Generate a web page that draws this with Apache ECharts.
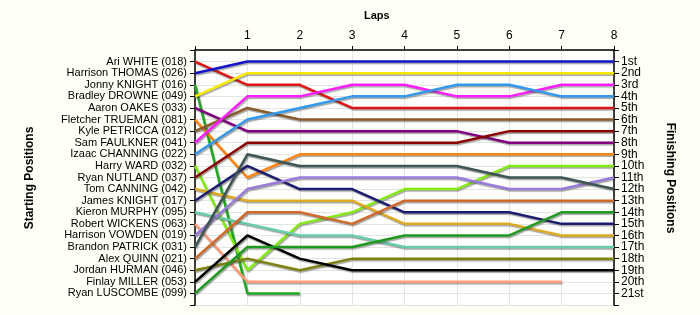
<!DOCTYPE html>
<html><head><meta charset="utf-8">
<script src="https://cdn.jsdelivr.net/npm/echarts@6/dist/echarts.min.js"></script>
<style>html,body{margin:0;padding:0;background:#fffff5}#c{width:700px;height:315px}</style>
</head><body><div id="c"></div>
<script>
const laps = [0,1,2,3,4,5,6,7,8];
const starters = ['Ari WHITE (018)','Harrison THOMAS (026)','Jonny KNIGHT (016)','Bradley DROWNE (049)','Aaron OAKES (033)','Fletcher TRUEMAN (081)','Kyle PETRICCA (012)','Sam FAULKNER (041)','Izaac CHANNING (022)','Harry WARD (032)','Ryan NUTLAND (037)','Tom CANNING (042)','James KNIGHT (017)','Kieron MURPHY (095)','Robert WICKENS (063)','Harrison VOWDEN (019)','Brandon PATRICK (031)','Alex QUINN (021)','Jordan HURMAN (046)','Finlay MILLER (053)','Ryan LUSCOMBE (099)'];
const finishLabels = ['1st','2nd','3rd','4th','5th','6th','7th','8th','9th','10th','11th','12th','13th','14th','15th','16th','17th','18th','19th','20th','21st'];
const whitePos    = [1,3,3,5,5,5,5,5,5];
const thomasPos   = [2,1,1,1,1,1,1,1,1];
const jKnight016  = [3,21,21];
const drownePos   = [4,2,2,2,2,2,2,2,2];
const oakesPos    = [5,7,7,7,7,7,8,8,8];
const truemanPos  = [6,11,9,9,9,9,9,9,9];
const petriccaPos = [7,5,6,6,6,6,6,6,6];
const faulknerPos = [8,4,4,3,3,4,4,3,3];
const channingPos = [9,6,5,4,4,3,3,4,4];
const wardPos     = [10,19,15,14,12,12,10,10,10];
const nutlandPos  = [11,8,8,8,8,8,7,7,7];
const canningPos  = [12,13,13,13,15,15,15,16,16];
const jKnight017  = [13,10,12,12,14,14,14,15,15];
const murphyPos   = [14,15,16,16,17,17,17,17,17];
const wickensPos  = [15,20,20,20,20,20,20,20];
const vowdenPos   = [16,12,11,11,11,11,12,12,11];
const patrickPos  = [17,9,10,10,10,10,11,11,12];
const quinnPos    = [18,14,14,15,13,13,13,13,13];
const hurmanPos   = [19,18,19,18,18,18,18,18,18];
const millerPos   = [20,16,18,19,19,19,19,19,19];
const luscombePos = [21,17,17,17,16,16,16,14,14];
const positions = [whitePos,thomasPos,jKnight016,drownePos,oakesPos,truemanPos,petriccaPos,faulknerPos,channingPos,wardPos,nutlandPos,canningPos,jKnight017,murphyPos,wickensPos,vowdenPos,patrickPos,quinnPos,hurmanPos,millerPos,luscombePos];
const colors = ['#e01515','#1414cc','#22a822','#f8e800','#800080','#ff8410','#8b5a2b','#ff1cff','#3399ee','#84ea14','#8b0000','#ddaa22','#1c1c70','#66ccaa','#ff9a7a','#9a7ada','#3d5555','#d0692a','#808010','#000000','#1f9a1f'];

const series = positions.map((p,i)=>({
  type:'line', name:starters[i], data:p.map((v,k)=>[laps[k],v]),
  symbol:'none', silent:true, animation:false,
  lineStyle:{width:2.5,color:colors[i],shadowColor:'rgba(60,60,60,0.45)',shadowBlur:1,shadowOffsetX:1,shadowOffsetY:1.5}
}));

const chart = echarts.init(document.getElementById('c'),null,{renderer:'canvas'});
const font = {fontFamily:'Liberation Sans',fontSize:11,color:'#000'};
chart.setOption({
  backgroundColor:'#fffff5',
  animation:false,
  grid:{left:195,right:86,top:50,bottom:10,show:true,backgroundColor:'#fffffd',borderWidth:0},
  xAxis:{type:'value',position:'top',min:0,max:8,interval:1,
    axisLine:{show:true,lineStyle:{color:'#000',width:1.5}},
    axisTick:{show:true,length:4,lineStyle:{color:'#000'}},
    axisLabel:Object.assign({margin:8,formatter:v=>v===0?'':String(v)},font,{fontSize:12}),
    splitLine:{show:true,lineStyle:{color:'#e4e4e4',width:1}}},
  yAxis:[
    {type:'value',inverse:true,min:0,max:22,interval:1,position:'left',
     axisLine:{show:true,lineStyle:{color:'#000',width:1.5}},
     axisTick:{show:true,length:5,lineStyle:{color:'#000'}},
     axisLabel:Object.assign({margin:8,formatter:v=>starters[v-1]||''},font),
     splitLine:{show:true,lineStyle:{color:'#e4e4e4',width:1}}},
    {type:'value',inverse:true,min:0,max:22,interval:1,position:'right',
     axisLine:{show:true,lineStyle:{color:'#000',width:1.5}},
     axisTick:{show:true,length:5,lineStyle:{color:'#000'}},
     axisLabel:Object.assign({margin:7,formatter:v=>finishLabels[v-1]||''},font,{fontSize:12}),
     splitLine:{show:false}}
  ],
  series:series,
  graphic:[
    {type:'text',left:364,top:10,style:{text:'Laps',font:'bold 11px "Liberation Sans"',fill:'#000'}},
    {type:'text',x:30,y:178,rotation:Math.PI/2,style:{text:'Starting Positions',font:'bold 12px "Liberation Sans"',fill:'#000',align:'center',verticalAlign:'middle'}},
    {type:'text',x:670,y:178,rotation:-Math.PI/2,style:{text:'Finishing Positions',font:'bold 12px "Liberation Sans"',fill:'#000',align:'center',verticalAlign:'middle'}}
  ]
});
</script></body></html>
